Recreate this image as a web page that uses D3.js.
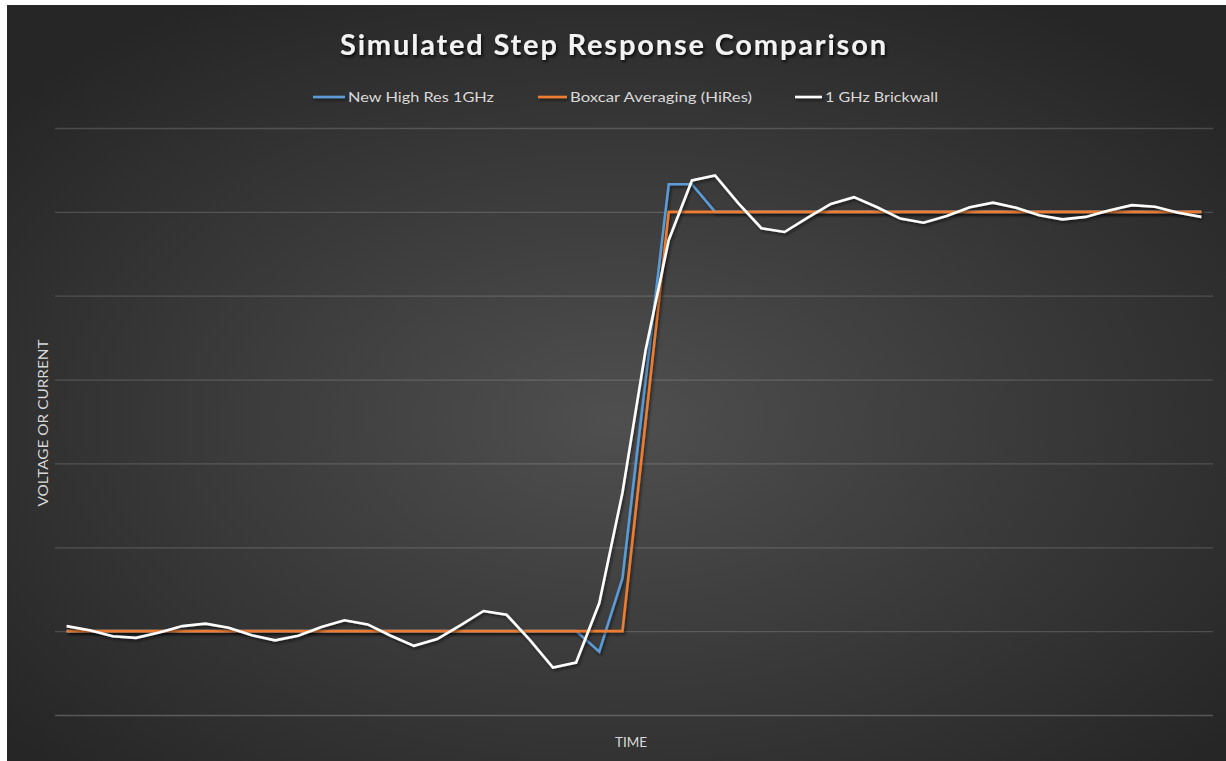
<!DOCTYPE html>
<html>
<head>
<meta charset="utf-8">
<script src="https://cdn.jsdelivr.net/npm/d3@7"></script>
<style>
  html, body { margin: 0; padding: 0; background: #ffffff; }
  svg { display: block; }
</style>
</head>
<body>
<svg id="chart" width="1226" height="761"></svg>
<script>
// ---- data ----
const categories = [1,2,3,4,5,6,7,8,9,10,11,12,13,14,15,16,17,18,19,20,21,22,23,24,25,
                    26,27,28,29,30,31,32,33,34,35,36,37,38,39,40,41,42,43,44,45,46,47,48,49,50];
const newHighRes = [0,0,0,0,0,0,0,0,0,0,0,0,0,0,0,0,0,0,0,0,0,0,0,-0.049,0.126,
                    0.6,1.066,1.066,1.0,1,1,1,1,1,1,1,1,1,1,1,1,1,1,1,1,1,1,1,1,1];
const boxcar = [0,0,0,0,0,0,0,0,0,0,0,0,0,0,0,0,0,0,0,0,0,0,0,0,0,
                0.5,1,1,1,1,1,1,1,1,1,1,1,1,1,1,1,1,1,1,1,1,1,1,1,1];
const brickwall = [0.012,0.002,-0.012,-0.016,-0.003,0.012,0.018,0.008,-0.010,-0.022,
                   -0.011,0.010,0.026,0.016,-0.011,-0.035,-0.019,0.014,0.048,0.039,
                   -0.021,-0.087,-0.075,0.067,0.33,0.67,0.933,1.075,1.087,1.021,
                   0.961,0.952,0.986,1.019,1.035,1.011,0.984,0.974,0.990,1.011,
                   1.022,1.010,0.992,0.982,0.988,1.003,1.016,1.012,0.998,0.988];
const yTicks = [-0.2, 0, 0.2, 0.4, 0.6, 0.8, 1.0, 1.2];
const seriesNames = ["New High Res 1GHz", "Boxcar Averaging (HiRes)", "1 GHz Brickwall"];
const seriesColors = ["#5b9bd5", "#ed7d31", "#ffffff"];
const titleText = "Simulated Step Response Comparison";
const xTitle = "TIME";
const yTitle = "VOLTAGE OR CURRENT";

// ---- setup ----
const W = 1226, H = 761;
const svg = d3.select("#chart");
const defs = svg.append("defs");

const rg = defs.append("radialGradient").attr("id", "bg")
  .attr("cx", "50%").attr("cy", "55%").attr("r", "65%");
rg.append("stop").attr("offset", "0%").attr("stop-color", "#4f4f4f");
rg.append("stop").attr("offset", "100%").attr("stop-color", "#262626");

const sh = defs.append("filter").attr("id", "shadow")
  .attr("x", "-5%").attr("y", "-5%").attr("width", "110%").attr("height", "110%");
sh.append("feDropShadow").attr("dx", 1.5).attr("dy", 2).attr("stdDeviation", 1.5)
  .attr("flood-color", "#000").attr("flood-opacity", 0.55);

const lsh = defs.append("filter").attr("id", "lshadow")
  .attr("x", "-20%").attr("y", "-300%").attr("width", "140%").attr("height", "700%");
lsh.append("feDropShadow").attr("dx", 1.5).attr("dy", 2).attr("stdDeviation", 1.5)
  .attr("flood-color", "#000").attr("flood-opacity", 0.55);

const tsh = defs.append("filter").attr("id", "tshadow")
  .attr("x", "-5%").attr("y", "-20%").attr("width", "110%").attr("height", "140%");
tsh.append("feDropShadow").attr("dx", 1.5).attr("dy", 2).attr("stdDeviation", 1.5)
  .attr("flood-color", "#000").attr("flood-opacity", 0.8);

// background (white strip on left/top as in the reference)
svg.append("rect").attr("x", 7).attr("y", 5).attr("width", W - 7).attr("height", H - 5)
  .attr("fill", "url(#bg)");

const margin = { left: 55, right: 13 };
const x = d3.scalePoint().domain(categories).range([margin.left, W - margin.right]).padding(0.5);
const y = d3.scaleLinear().domain([-0.2, 1.2]).range([715, 128]);

// gridlines
const grid = svg.append("g").attr("transform", `translate(${margin.left},0)`)
  .call(d3.axisLeft(y).tickValues(yTicks).tickSize(-(W - margin.right - margin.left)).tickFormat(""));
grid.select(".domain").remove();
grid.selectAll(".tick line").attr("stroke", "#ffffff").attr("stroke-opacity", 0.16).attr("stroke-width", 1.3);
grid.selectAll(".tick").filter(d => d === -0.2).select("line")
  .attr("stroke-opacity", 0.22).attr("stroke-width", 1.6);

// lines
const line = d3.line().x((d, i) => x(categories[i])).y(d => y(d));
const allSeries = [newHighRes, boxcar, brickwall];
allSeries.forEach((s, k) => {
  svg.append("path").datum(s)
    .attr("d", line)
    .attr("fill", "none")
    .attr("stroke", seriesColors[k])
    .attr("stroke-width", 2.6)
    .attr("stroke-linejoin", "miter")
    .attr("filter", "url(#shadow)");
});

// title
svg.append("text").attr("x", 613).attr("y", 55)
  .attr("text-anchor", "middle")
  .attr("font-family", "Lato, 'Open Sans', sans-serif")
  .attr("font-weight", 700)
  .attr("font-size", 29)
  .attr("fill", "#f2f2f2")
  .attr("filter", "url(#tshadow)")
  .attr("textLength", 546).attr("lengthAdjust", "spacing")
  .text(titleText);

// legend
const legendItems = [
  { lx: 313, tx: 348, tw: 146 },
  { lx: 538, tx: 570, tw: 182 },
  { lx: 795, tx: 825, tw: 113 }
];
legendItems.forEach((it, k) => {
  svg.append("rect").attr("x", it.lx).attr("y", 95.7).attr("width", it.tx - 3 - it.lx).attr("height", 2.6)
    .attr("fill", seriesColors[k]).attr("filter", "url(#lshadow)");
  svg.append("text").attr("x", it.tx).attr("y", 102)
    .attr("font-family", "Lato, 'Open Sans', sans-serif")
    .attr("font-size", 13.5)
    .attr("fill", "#d9d9d9")
    .attr("textLength", it.tw).attr("lengthAdjust", "spacingAndGlyphs")
    .text(seriesNames[k]);
});

// axis titles
svg.append("text").attr("x", 631).attr("y", 747)
  .attr("text-anchor", "middle")
  .attr("font-family", "Lato, 'Open Sans', sans-serif")
  .attr("font-size", 13.5)
  .attr("fill", "#d9d9d9")
  .text(xTitle);

svg.append("text")
  .attr("transform", "translate(48,423) rotate(-90)")
  .attr("text-anchor", "middle")
  .attr("font-family", "Lato, 'Open Sans', sans-serif")
  .attr("font-size", 13.5)
  .attr("fill", "#d9d9d9")
  .attr("textLength", 167).attr("lengthAdjust", "spacingAndGlyphs")
  .text(yTitle);
</script>
</body>
</html>
